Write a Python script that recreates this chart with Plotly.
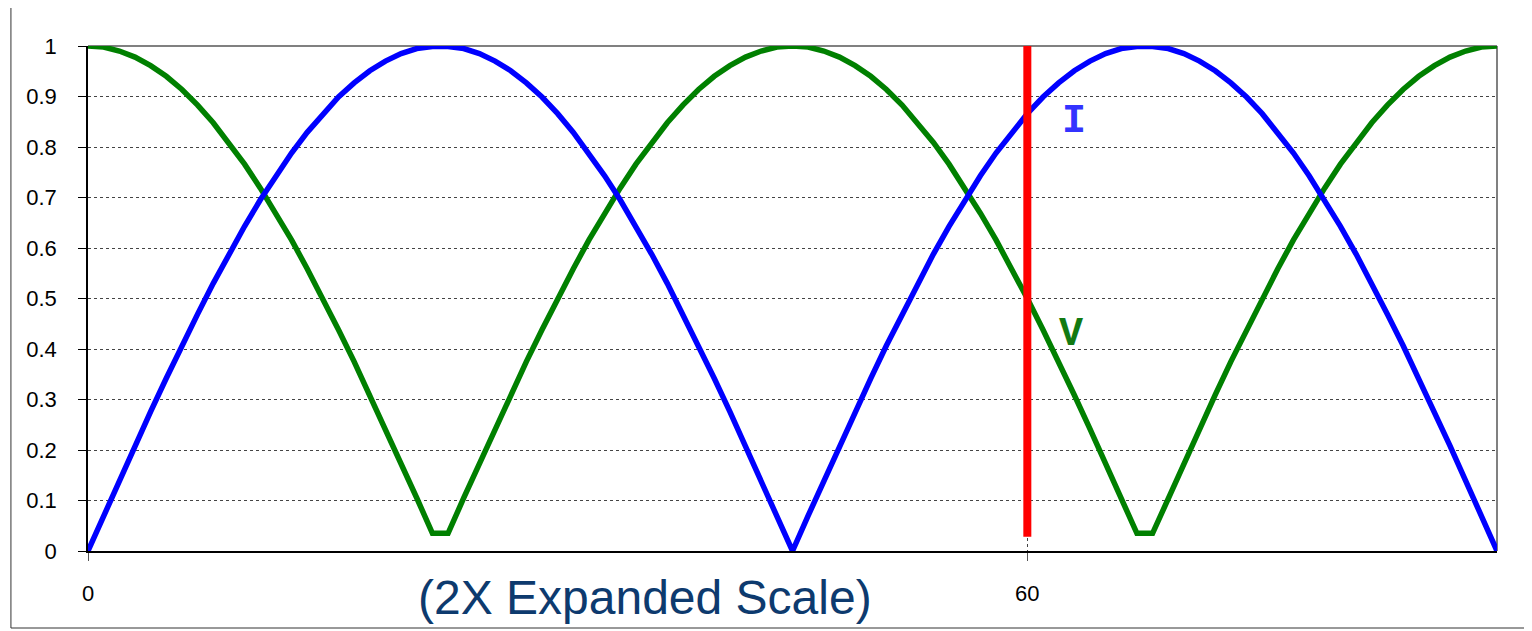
import plotly.graph_objects as go

# Sample index (x axis units), 0..90
x_vals = list(range(0, 91))

# Current (I)
i_half = [0.000, 0.070, 0.139, 0.208, 0.276, 0.342, 0.407, 0.469, 0.530, 0.588,
          0.643, 0.695, 0.743, 0.788, 0.829, 0.866, 0.899, 0.927, 0.951, 0.970,
          0.985, 0.995, 0.999, 0.999, 0.995, 0.985, 0.970, 0.951, 0.927, 0.899,
          0.866, 0.829, 0.788, 0.743, 0.695, 0.643, 0.588, 0.530, 0.469, 0.407,
          0.342, 0.276, 0.208, 0.139, 0.070]
i_vals = i_half + i_half + [0.000]

# Voltage (V)
v_half = [1.000, 0.998, 0.990, 0.978, 0.961, 0.940, 0.914, 0.883, 0.848, 0.809,
          0.766, 0.719, 0.669, 0.616, 0.559, 0.500, 0.438, 0.375, 0.309, 0.242,
          0.174, 0.105, 0.035, 0.035, 0.105, 0.174, 0.242, 0.309, 0.375, 0.438,
          0.500, 0.559, 0.616, 0.669, 0.719, 0.766, 0.809, 0.848, 0.883, 0.914,
          0.940, 0.961, 0.978, 0.990, 0.998]
v_vals = v_half + v_half + [1.000]

# Red marker line
marker_x = [60, 60]
marker_y = [0.028, 1.0]

x_ticks = [0, 60]
x_tick_text = ["0", "60"]
y_ticks = [0, 0.1, 0.2, 0.3, 0.4, 0.5, 0.6, 0.7, 0.8, 0.9, 1]
y_tick_text = ["0", "0.1", "0.2", "0.3", "0.4", "0.5", "0.6", "0.7", "0.8", "0.9", "1"]

fig = go.Figure()
fig.add_trace(go.Scatter(x=x_vals, y=v_vals, mode="lines",
                         line=dict(color="#008000", width=5.5), name="V"))
fig.add_trace(go.Scatter(x=x_vals, y=i_vals, mode="lines",
                         line=dict(color="#0000FF", width=5.5), name="I"))
fig.add_trace(go.Scatter(x=marker_x, y=marker_y, mode="lines",
                         line=dict(color="#FF0000", width=8), name="t"))

fig.update_layout(
    width=1524, height=623,
    margin=dict(l=80, r=35, t=38, b=80),
    paper_bgcolor="white", plot_bgcolor="white",
    showlegend=False,
    font=dict(family="Liberation Sans, Arial, sans-serif", color="black"),
    xaxis=dict(range=[0, 90], tickvals=x_ticks, ticktext=x_tick_text,
               showgrid=True, gridcolor="#444444", gridwidth=1, griddash="3px,3px",
               showline=True, linecolor="black", linewidth=1.5,
               ticks="outside", ticklen=8, tickcolor="#555555",
               tickfont=dict(size=22), ticklabelstandoff=14, zeroline=False),
    yaxis=dict(range=[0, 1], tickvals=y_ticks, ticktext=y_tick_text,
               showgrid=True, gridcolor="#444444", gridwidth=1, griddash="3px,3px",
               showline=True, linecolor="black", linewidth=1.5,
               ticks="outside", ticklen=8, tickcolor="black",
               tickfont=dict(size=22), ticklabelstandoff=17, zeroline=False),
    shapes=[
        # gray plot border (top/right)
        dict(type="line", xref="paper", yref="paper", x0=0, x1=1, y0=1, y1=1,
             line=dict(color="#808080", width=2), layer="between"),
        dict(type="line", xref="paper", yref="paper", x0=1, x1=1, y0=0, y1=1,
             line=dict(color="#808080", width=2), layer="between"),
        # outer chart frame
        dict(type="rect", xref="paper", yref="paper",
             x0=-0.0547, x1=1.0227, y0=-0.1525, y1=1.0812,
             line=dict(color="#333333", width=1), layer="below"),
    ],
    annotations=[
        dict(text="(2X Expanded Scale)", xref="paper", yref="paper",
             x=0.3953, y=-0.0911, xanchor="center", yanchor="middle",
             showarrow=False,
             font=dict(family="Liberation Sans, Arial, sans-serif", size=48, color="#0D3A6E")),
        dict(text="<b>I</b>", xref="x", yref="y", x=63.0, y=0.85,
             xanchor="center", yanchor="middle", showarrow=False,
             font=dict(family="Liberation Mono, Courier New, monospace", size=40, color="#3333FF")),
        dict(text="<b>V</b>", xref="x", yref="y", x=62.8, y=0.428,
             xanchor="center", yanchor="middle", showarrow=False,
             font=dict(family="Liberation Mono, Courier New, monospace", size=40, color="#127A12")),
    ],
)

fig.write_html("out.html")
